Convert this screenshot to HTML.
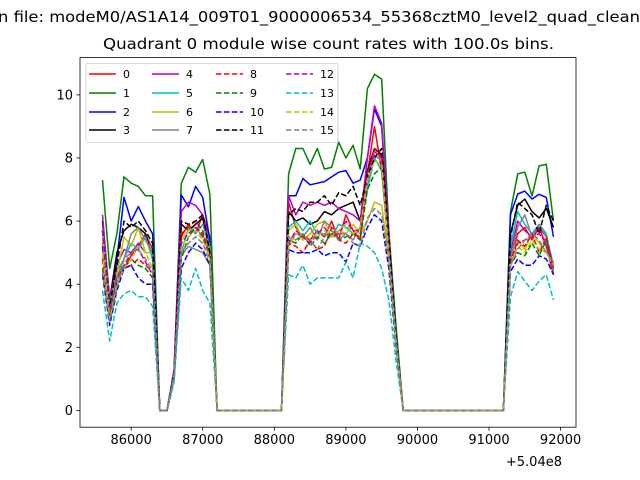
<!DOCTYPE html>
<html><head><meta charset="utf-8"><style>
body{margin:0;background:#fff}
svg{display:block;font-family:"DejaVu Sans","Liberation Sans",sans-serif}
</style></head><body>
<svg id="c" width="640" height="480"></svg>
<script>
const categories = [];
for (let t = 85600; t <= 91900; t += 100) categories.push(t);
const Z2=[0,0], Z10=[0,0,0,0,0,0,0,0,0,0], Z15=[0,0,0,0,0,0,0,0,0,0,0,0,0,0,0];
const s0 = [5.3,3.0,4.2,4.5,4.9,5.2,5.6,5.1].concat(Z2,[1.2,5.5,5.9,5.6,6.2,5.5],Z10,[6.6,5.8,5.5,5.4,5.7,5.5,6.0,5.4,6.2,5.7,5.4,7.5,9.0,7.6,5.2,2.2],Z15,[4.8,5.6,5.8,5.4,5.8,5.2,4.3]);
const s1 = [7.3,4.5,5.6,7.4,7.2,7.1,6.8,6.8].concat(Z2,[1.3,7.2,7.7,7.55,7.95,6.85],Z10,[7.5,8.3,8.3,7.8,8.3,7.65,7.7,8.5,8.0,8.4,7.65,10.2,10.65,10.5,5.7,2.7],Z15,[6.3,7.5,7.55,6.8,7.75,7.8,6.0]);
const s2 = [5.2,3.3,4.8,6.75,6.0,6.46,6.0,5.6].concat(Z2,[1.2,6.83,6.45,7.1,6.75,5.4],Z10,[6.8,6.8,7.35,7.15,7.2,7.25,7.4,7.55,7.6,7.2,7.3,8.0,9.55,9.0,5.5,2.4],Z15,[6.2,6.86,6.95,6.7,6.85,6.75,5.5]);
const s3 = [6.0,3.5,5.0,5.7,5.9,5.8,5.6,4.8].concat(Z2,[1.2,5.9,5.7,5.9,6.1,5.0],Z10,[6.3,6.0,6.1,5.9,6.0,6.3,6.2,6.4,6.5,6.6,6.0,7.6,8.3,8.1,5.4,2.3],Z15,[5.6,6.5,6.7,6.3,6.1,6.4,5.8]);
const s4 = [6.2,3.5,4.6,5.1,5.0,5.3,5.0,5.0].concat(Z2,[1.3,6.3,6.6,6.5,6.2,5.2],Z10,[6.8,6.2,6.6,6.5,6.6,6.5,6.6,6.4,6.3,6.2,6.0,8.0,9.65,9.1,5.5,2.3],Z15,[5.0,6.0,5.7,5.5,5.8,5.5,4.6]);
const s5 = [5.7,3.4,4.4,4.8,5.3,5.1,5.5,4.8].concat(Z2,[1.2,5.0,5.8,5.6,5.9,5.2],Z10,[5.8,6.0,5.7,6.0,5.6,5.6,5.5,5.9,5.8,5.6,5.8,7.0,8.0,7.6,5.0,2.2],Z15,[5.2,6.3,5.9,5.6,5.9,5.6,4.5]);
const s6 = [5.5,3.2,4.3,5.5,5.2,5.8,5.0,5.0].concat(Z2,[1.1,5.4,5.7,5.8,5.5,5.1],Z10,[5.7,5.9,5.4,5.6,5.9,6.0,5.5,5.7,5.6,5.9,5.6,6.0,6.6,6.5,4.8,2.2],Z15,[4.9,5.4,5.1,5.6,5.3,5.0,4.7]);
const s7 = [5.0,3.1,4.2,4.8,5.6,5.8,5.4,5.0].concat(Z2,[1.2,4.9,5.2,5.1,5.0,4.6],Z10,[5.2,5.6,5.5,5.8,5.4,6.0,5.8,5.6,5.6,5.4,5.8,7.2,8.1,7.9,5.0,2.2],Z15,[4.8,5.8,6.2,5.5,5.9,5.5,4.4]);
const s8 = [4.8,3.0,4.0,4.5,4.6,4.8,4.6,4.4].concat(Z2,[1.1,5.6,5.8,6.0,5.7,4.9],Z10,[5.3,5.2,5.0,5.4,5.1,5.2,5.8,5.4,5.3,5.6,5.5,7.4,8.3,8.0,5.1,2.2],Z15,[4.7,5.4,5.2,5.6,5.0,5.5,4.5]);
const s9 = [4.5,3.0,4.1,4.5,4.8,4.6,4.5,4.2].concat(Z2,[1.1,4.8,5.5,5.8,5.6,4.8],Z10,[5.4,5.3,5.6,5.2,5.5,5.3,5.6,5.4,5.5,5.6,5.4,7.0,7.5,7.7,5.0,2.2],Z15,[4.6,5.0,4.9,5.3,4.9,5.4,4.5]);
const s10 = [4.3,2.7,3.8,4.5,4.6,4.2,4.0,4.0].concat(Z2,[1.0,4.5,5.0,5.3,5.1,4.6],Z10,[5.1,5.0,5.0,5.0,5.1,4.9,5.0,5.0,4.7,5.3,5.2,5.8,6.2,6.0,4.5,2.0],Z15,[4.4,4.8,4.6,4.6,4.9,4.8,4.3]);
const s11 = [5.7,3.3,4.6,6.0,5.8,6.0,5.7,5.3].concat(Z2,[1.2,6.0,5.9,6.0,6.2,5.0],Z10,[6.2,6.4,6.3,6.6,6.6,6.8,6.5,6.9,6.8,7.1,6.5,7.4,8.0,8.3,5.5,2.3],Z15,[5.5,6.6,6.4,6.2,5.6,6.5,6.0]);
const s12 = [5.7,3.0,4.2,4.6,5.0,5.1,4.7,4.3].concat(Z2,[1.1,5.3,5.6,5.8,5.5,4.8],Z10,[5.3,5.7,5.5,5.3,5.6,5.8,5.5,5.6,6.0,5.7,5.7,7.5,8.2,8.0,5.1,2.2],Z15,[4.6,5.3,5.4,5.5,5.6,5.3,4.5]);
const s13 = [3.8,2.2,3.4,3.7,3.8,3.6,3.6,3.3].concat(Z2,[0.9,4.2,3.8,4.5,3.8,3.4],Z10,[4.3,4.2,4.6,4.0,4.2,4.2,4.2,4.2,4.7,4.2,5.3,5.2,5.0,4.5,3.5,1.6],Z15,[3.6,4.4,4.1,3.8,4.1,4.3,3.5]);
const s14 = [5.0,2.9,4.0,4.5,4.8,5.2,5.0,4.5].concat(Z2,[1.1,5.2,5.5,5.7,5.4,4.8],Z10,[5.2,5.6,5.4,5.6,5.5,5.7,5.5,5.7,5.9,5.6,5.8,7.3,7.9,7.8,5.0,2.2],Z15,[4.6,5.2,5.0,5.4,5.1,5.0,4.6]);
const s15 = [4.4,2.8,3.9,4.8,5.0,5.1,4.8,4.4].concat(Z2,[1.1,5.0,5.3,5.5,5.3,4.7],Z10,[5.5,5.4,5.6,5.4,5.1,5.5,5.7,5.4,5.6,5.3,5.2,6.1,6.4,6.2,4.8,2.1],Z15,[4.6,5.1,5.4,5.6,5.4,5.0,4.7]);
const series = [s0,s1,s2,s3,s4,s5,s6,s7,s8,s9,s10,s11,s12,s13,s14,s15];
const seriesLabels = ["0","1","2","3","4","5","6","7","8","9","10","11","12","13","14","15"];
const xTicks = [86000,87000,88000,89000,90000,91000,92000];
const yTicks = [0,2,4,6,8,10];

const colors=["#ff0000","#008000","#0000ff","#000000","#bf00bf","#00bfbf","#bfbf00","#808080"];
const L=80,R=576,T=57.6,B=427.2;
const xmin=85285,xmax=92215,ymin=-0.53,ymax=11.18;
const X=v=>L+(v-xmin)/(xmax-xmin)*(R-L);
const Y=v=>B-(v-ymin)/(ymax-ymin)*(B-T);
const svg=document.getElementById('c');
const NS="http://www.w3.org/2000/svg";
function mk(tag,attrs,parent){const e=document.createElementNS(NS,tag);for(const k in attrs)e.setAttribute(k,attrs[k]);(parent||svg).appendChild(e);return e;}

let t=mk('text',{x:-2,y:22,'font-size':15.5,textLength:642,lengthAdjust:'spacingAndGlyphs'});


t.textContent="n file: modeM0/AS1A14_009T01_9000006534_55368cztM0_level2_quad_clean";
t=mk('text',{x:103,y:49,'font-size':15.5,textLength:451,lengthAdjust:'spacingAndGlyphs'});


t.textContent="Quadrant 0 module wise count rates with 100.0s bins.";

const clip=mk('clipPath',{id:'pc'});mk('rect',{x:L,y:T,width:R-L,height:B-T},clip);
const g=mk('g',{'clip-path':'url(#pc)'});


series.forEach((s,i)=>{
  const p=mk('polyline',{points:s.map((v,j)=>X(categories[j]).toFixed(1)+','+Y(v).toFixed(1)).join(' '),fill:'none',stroke:colors[i%8],'stroke-width':1.5,'stroke-linejoin':'round'},g);
  if(i>=8)p.setAttribute('stroke-dasharray','5.5,2.4');
  
  
});
const fr=mk('rect',{x:L,y:T,width:R-L,height:B-T,fill:'none',stroke:'#000','stroke-width':0.8});



xTicks.forEach(v=>{
  mk('line',{x1:X(v),x2:X(v),y1:B,y2:B+3.5,stroke:'#000','stroke-width':0.8});
  const tx=mk('text',{x:X(v),y:B+17,'font-size':13,'text-anchor':'middle'});
  
  
  tx.textContent=v;
});
t=mk('text',{x:562,y:466,'font-size':13,'text-anchor':'end'});


t.textContent="+5.04e8";
yTicks.forEach(v=>{
  mk('line',{x1:L-3.5,x2:L,y1:Y(v),y2:Y(v),stroke:'#000','stroke-width':0.8});
  const ty=mk('text',{x:L-7,y:Y(v)+4.5,'font-size':13,'text-anchor':'end'});
  
  
  ty.textContent=v;
});

const lg=mk('g',{});


mk('rect',{x:86,y:63.5,width:252,height:79,rx:2,fill:'#fff','fill-opacity':0.8,stroke:'#ccc','stroke-width':0.8},lg);
const colX=[89,152,216,286],rowY=[74,93,112,130];
series.forEach((s,i)=>{
  const c=Math.floor(i/4),r=i%4;
  const e=mk('g',{},lg);
  
  
  const ln=mk('line',{x1:colX[c],x2:colX[c]+27,y1:rowY[r],y2:rowY[r],stroke:colors[i%8],'stroke-width':1.5},e);
  if(i>=8)ln.setAttribute('stroke-dasharray','5.5,2.4');
  const tt=mk('text',{x:colX[c]+34,y:rowY[r]+4,'font-size':11},e);
  tt.textContent=seriesLabels[i];
});
</script>
</body></html>
